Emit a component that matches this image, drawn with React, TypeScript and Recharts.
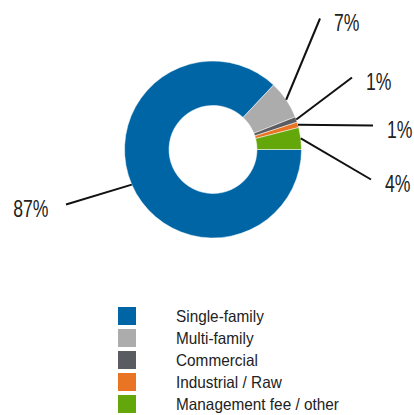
import React from "react";
import { PieChart, Pie, Cell, Legend } from "recharts";

const categories = ["Single-family", "Multi-family", "Commercial", "Industrial / Raw", "Management fee / other"];
const shares = [87, 7, 1, 1, 4];
const colors = ["#0065a4", "#acacac", "#5b5c61", "#e87424", "#64a70b"];

// label line end points, relative to the pie centre (layout only)
const labelEnds: [number, number][] = [
  [-147, 55],
  [107, -131],
  [139, -72],
  [160, -24],
  [158, 30],
];

const data = categories.map((name, i) => ({ name, value: shares[i] }));

const FONT = "'Liberation Sans', Arial, sans-serif";
const RAD = Math.PI / 180;

const renderLabel = (props: any) => {
  const { cx, cy, midAngle, outerRadius, index, value } = props;
  const sx = cx + outerRadius * Math.cos(-midAngle * RAD);
  const sy = cy + outerRadius * Math.sin(-midAngle * RAD);
  const [dx, dy] = labelEnds[index];
  const ex = cx + dx;
  const ey = cy + dy;
  const left = dx < 0;
  const tx = left ? ex - 17.5 : ex + 14;
  const ty = ey + 4;
  return (
    <g key={`lbl-${index}`}>
      <line x1={sx} y1={sy} x2={ex} y2={ey} stroke="#111" strokeWidth={2} />
      <text
        transform={`translate(${tx},${ty}) scale(0.75,1)`}
        x={0}
        y={0}
        textAnchor={left ? "end" : "start"}
        dominantBaseline="central"
        fontFamily={FONT}
        fontSize={23.5}
        fill="#222"
      >
        {`${value}%`}
      </text>
    </g>
  );
};

const renderLegend = () => (
  <div style={{ fontFamily: FONT }}>
    {categories.map((c, i) => (
      <div key={c} style={{ display: "flex", alignItems: "center", height: 22 }}>
        <div style={{ width: 18, height: 18, background: colors[i], flex: "none" }} />
        <div
          style={{
            marginLeft: 40,
            fontSize: 16.5,
            color: "#222",
            lineHeight: "22px",
            whiteSpace: "nowrap",
            transform: "scaleX(0.93)",
            transformOrigin: "left center",
          }}
        >
          {c}
        </div>
      </div>
    ))}
  </div>
);

export default function App() {
  return (
    <div style={{ position: "absolute", left: 0, top: 0 }}>
      <PieChart width={414} height={415} margin={{ top: 0, right: 0, bottom: 0, left: 0 }}>
        <Pie
          data={data}
          dataKey="value"
          nameKey="name"
          cx={213}
          cy={149.5}
          innerRadius={44}
          outerRadius={88.5}
          startAngle={360}
          endAngle={0}
          stroke="#fff"
          strokeWidth={0.5}
          label={renderLabel}
          labelLine={false}
          isAnimationActive={false}
        >
          {data.map((d, i) => (
            <Cell key={d.name} fill={colors[i]} />
          ))}
        </Pie>
        <Legend
          content={renderLegend}
          wrapperStyle={{ position: "absolute", left: 118, top: 305, width: 280, bottom: "auto" }}
        />
      </PieChart>
    </div>
  );
}
